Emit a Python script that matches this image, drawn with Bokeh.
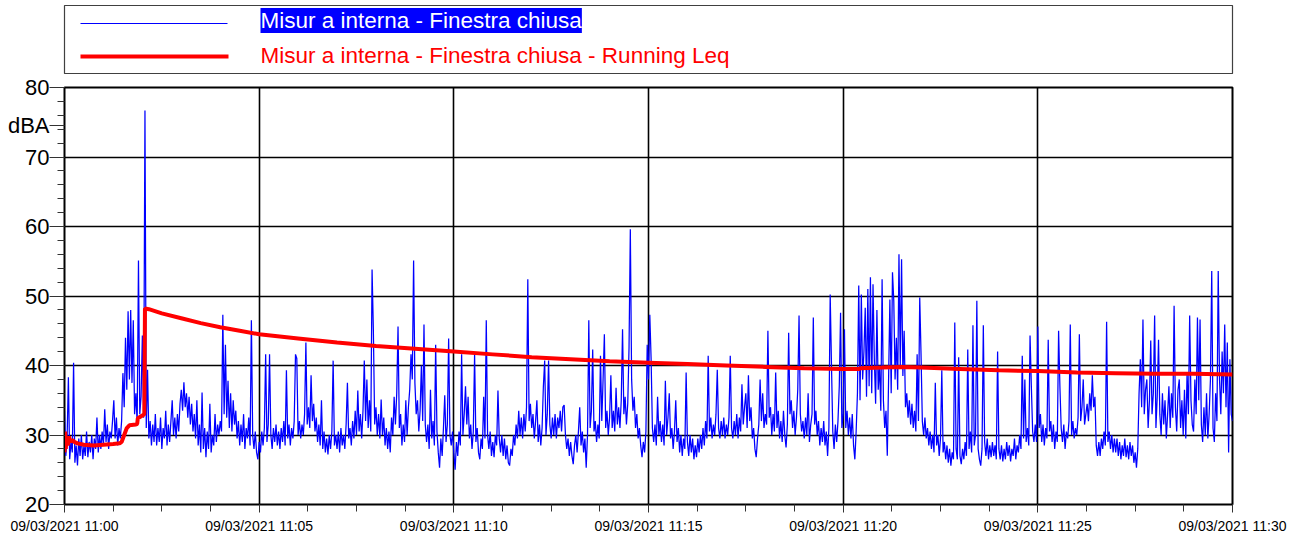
import numpy as np
from datetime import datetime
from bokeh.plotting import figure
from bokeh.models import Range1d, FixedTicker, DatetimeTickFormatter, Label
from bokeh.layouts import column
from bokeh.embed import file_html
from bokeh.resources import INLINE

FONT = "Liberation Sans"

# ---------------- data ----------------
start_time = datetime(2021, 3, 9, 11, 0, 0)
sample_step_s = 2

# LAeq samples (dBA), one value every 2 s; one row per minute
laeq_1100_1105 = [
    33.5, 27.0, 29.5, 38.3, 26.5, 29.0, 27.5, 40.4, 26.0, 28.5, 25.6, 29.5, 27.0, 30.0, 26.5, 28.5, 27.0, 30.5, 26.8, 29.0, 27.5, 30.0, 26.5, 29.5, 28.0, 32.5, 27.5, 30.0, 28.0, 30.5,
    28.5, 33.7, 29.0, 31.5, 28.0, 30.5, 29.5, 32.0, 35.0, 29.5, 32.5, 28.5, 31.0, 29.5, 32.0, 38.9, 34.0, 44.0, 36.5, 47.8, 38.0, 48.0, 37.5, 46.5, 33.0, 36.0, 31.5, 55.1, 33.0, 35.5,
    44.3, 32.5, 76.7, 31.0, 39.4, 29.5, 32.0, 28.5, 31.5, 29.0, 33.0, 28.5, 31.0, 29.0, 32.5, 28.0, 31.0, 29.5, 33.5, 28.5, 31.5, 29.0, 32.0, 35.0, 30.0, 32.5, 29.5, 33.0, 30.5, 34.5,
    36.5, 33.5, 37.6, 34.0, 36.0, 32.5, 35.5, 31.5, 34.5, 30.5, 33.0, 29.5, 35.0, 28.5, 31.5, 27.5, 36.1, 28.0, 31.0, 26.8, 30.5, 28.0, 34.5, 27.5, 30.0, 28.5, 33.0, 29.0, 31.5, 30.0,
    32.0, 30.5, 47.3, 33.0, 43.0, 32.5, 37.8, 31.0, 36.0, 30.5, 35.0, 31.5, 33.5, 29.5, 32.0, 28.5, 31.5, 29.0, 33.0, 28.0, 31.0, 29.5, 32.5, 28.5, 46.5, 30.0, 28.0, 30.5, 27.5, 26.5,
]
laeq_1105_1110 = [
    29.0, 27.5, 30.5, 28.5, 31.0, 41.6, 29.0, 31.5, 41.6, 30.0, 28.0, 31.0, 29.0, 31.5, 28.5, 30.5, 28.0, 31.0, 29.0, 32.0, 28.5, 39.3, 29.5, 31.5, 28.5, 31.0, 29.5, 32.0, 41.6, 41.0,
    30.0, 32.0, 29.5, 31.5, 30.0, 33.0, 43.3, 31.5, 34.0, 31.0, 38.6, 32.0, 34.5, 30.5, 32.5, 29.0, 31.5, 28.5, 35.0, 28.0, 30.5, 27.5, 29.5, 27.2, 30.0, 28.0, 30.5, 40.7, 28.5, 30.0,
    28.0, 30.5, 27.5, 31.0, 28.5, 30.0, 28.0, 31.5, 37.5, 29.5, 31.0, 28.5, 32.0, 29.5, 33.5, 30.0, 36.4, 30.5, 33.0, 29.5, 33.5, 40.7, 32.0, 38.0, 31.0, 35.0, 30.5, 53.8, 45.0, 31.5,
    34.0, 30.0, 33.0, 29.5, 35.1, 30.0, 32.5, 28.5, 31.0, 28.0, 30.5, 27.5, 32.5, 30.0, 35.5, 31.5, 36.0, 45.6, 31.0, 33.0, 28.5, 31.5, 29.0, 35.0, 30.0, 34.0, 36.5, 41.6, 38.0, 55.1,
    37.5, 33.0, 35.0, 30.5, 33.5, 40.0, 32.0, 45.9, 31.5, 29.0, 31.5, 28.0, 36.5, 29.5, 32.0, 28.5, 43.0, 30.5, 27.5, 25.3, 29.5, 27.0, 31.0, 35.7, 29.0, 31.5, 43.9, 30.0, 28.5, 30.5,
]
laeq_1110_1115 = [
    27.5, 25.0, 29.0, 27.0, 30.5, 28.5, 41.6, 30.0, 33.0, 37.0, 31.5, 35.5, 29.5, 31.5, 28.0, 30.5, 41.6, 29.0, 31.0, 27.5, 26.5, 29.5, 28.0, 35.5, 29.5, 46.5, 30.0, 28.0, 30.5, 27.0,
    29.0, 26.8, 30.0, 28.5, 36.4, 29.5, 27.5, 30.0, 27.0, 29.5, 26.5, 28.5, 26.0, 25.6, 28.0, 27.0, 30.0, 28.5, 31.5, 29.5, 33.5, 30.0, 32.5, 29.5, 33.0, 30.5, 34.0, 52.4, 32.0, 34.5,
    31.0, 33.0, 29.5, 32.0, 35.0, 29.0, 31.5, 28.5, 31.0, 37.0, 40.7, 30.0, 33.0, 40.7, 31.5, 29.5, 32.5, 30.0, 33.0, 29.5, 32.5, 31.0, 33.5, 30.5, 34.0, 34.3, 30.0, 28.0, 29.5, 27.0,
    29.0, 27.0, 25.8, 28.5, 30.0, 27.5, 30.5, 34.0, 28.5, 30.5, 27.5, 29.5, 25.3, 30.0, 46.5, 31.0, 33.5, 42.3, 30.5, 32.0, 29.0, 31.5, 29.5, 41.4, 32.0, 38.0, 44.5, 31.0, 33.5, 30.0,
    32.5, 38.6, 31.0, 33.5, 30.5, 36.8, 31.5, 34.0, 31.0, 35.0, 45.2, 33.0, 35.5, 31.5, 34.5, 42.6, 59.6, 38.0, 33.5, 35.5, 31.0, 33.0, 29.5, 31.0, 28.5, 26.8, 29.0, 27.5, 30.5, 43.0,
]
laeq_1115_1120 = [
    38.0, 47.3, 41.0, 31.0, 29.0, 31.5, 28.5, 35.5, 30.0, 32.0, 29.0, 31.5, 28.5, 37.8, 30.0, 32.5, 36.0, 29.5, 31.0, 28.0, 30.5, 35.0, 29.0, 31.0, 27.5, 30.0, 27.0, 29.5, 28.0, 39.0,
    29.0, 27.0, 30.0, 27.5, 29.5, 26.5, 28.5, 26.8, 29.5, 27.5, 30.0, 28.0, 31.0, 28.5, 32.0, 29.5, 41.4, 30.5, 32.5, 29.5, 31.5, 30.0, 33.0, 39.4, 31.0, 29.5, 32.0, 30.0, 32.5, 29.5,
    31.5, 30.0, 32.5, 41.4, 31.0, 29.5, 32.0, 30.0, 33.0, 29.5, 32.5, 30.5, 37.3, 31.5, 34.0, 36.0, 31.0, 38.6, 32.0, 34.0, 29.5, 31.0, 28.0, 26.8, 29.5, 31.5, 38.0, 32.0, 36.0, 31.0,
    33.0, 31.5, 45.0, 32.5, 34.0, 30.0, 33.0, 30.5, 39.0, 31.0, 33.5, 29.5, 32.0, 29.0, 33.5, 30.0, 28.2, 31.5, 44.7, 33.0, 35.0, 31.0, 33.5, 30.0, 32.5, 36.5, 47.2, 33.0, 30.5, 32.0,
    29.5, 32.5, 30.0, 36.0, 29.0, 31.5, 33.0, 46.9, 31.5, 33.5, 30.0, 32.0, 28.5, 31.0, 29.0, 32.0, 28.5, 30.5, 27.0, 31.0, 50.2, 40.0, 30.5, 28.0, 31.5, 29.0, 32.0, 37.0, 47.6, 31.0,
]
laeq_1120_1125 = [
    33.0, 45.2, 31.0, 33.5, 30.0, 32.5, 29.5, 33.0, 28.5, 26.5, 30.5, 36.0, 51.5, 35.0, 50.2, 38.0, 42.0, 48.3, 35.5, 51.0, 37.0, 52.7, 36.0, 51.7, 41.0, 34.5, 48.0, 36.5, 40.0, 33.5,
    52.4, 35.0, 31.0, 33.5, 27.0, 38.0, 49.5, 36.0, 53.4, 49.3, 38.0, 44.0, 36.5, 56.0, 40.0, 55.3, 38.5, 45.0, 34.0, 36.0, 32.5, 35.0, 31.5, 34.5, 31.0, 33.5, 30.5, 41.6, 32.0, 49.8,
    41.6, 32.0, 30.0, 32.5, 29.5, 31.0, 28.5, 30.5, 28.0, 30.0, 27.5, 37.5, 28.5, 30.0, 27.0, 29.5, 39.3, 27.5, 29.0, 26.5, 28.5, 26.0, 28.0, 25.6, 27.5, 26.5, 46.2, 28.0, 26.5, 41.2,
    27.0, 25.8, 28.0, 26.5, 29.0, 27.0, 42.3, 28.0, 30.5, 27.5, 45.8, 28.5, 30.0, 49.3, 28.0, 26.5, 25.6, 28.0, 45.8, 29.0, 27.0, 29.5, 26.5, 28.5, 26.8, 29.0, 27.0, 28.5, 26.5, 42.0,
    28.0, 26.5, 28.5, 26.2, 28.0, 26.5, 29.0, 27.0, 28.5, 26.2, 28.0, 27.0, 29.5, 26.5, 28.5, 27.5, 30.0, 28.0, 41.4, 29.5, 38.0, 29.0, 31.0, 28.5, 44.3, 37.0, 30.5, 29.0, 31.5, 29.0,
]
laeq_1125_1130 = [
    45.6, 31.0, 33.0, 29.0, 31.5, 28.5, 31.0, 29.5, 43.7, 30.5, 32.0, 29.0, 31.5, 28.0, 30.5, 29.0, 45.0, 37.0, 31.0, 29.0, 31.5, 28.0, 30.5, 29.5, 32.0, 45.9, 30.0, 32.0, 29.5, 31.0,
    30.0, 32.5, 44.5, 32.0, 34.0, 38.0, 31.5, 33.0, 34.5, 32.0, 36.0, 33.5, 38.6, 34.0, 35.5, 28.5, 27.0, 29.0, 27.0, 29.5, 28.0, 30.5, 28.5, 46.3, 29.0, 30.5, 28.0, 30.0, 27.5, 29.5,
    27.5, 29.5, 27.0, 29.0, 26.5, 28.5, 27.0, 29.5, 26.8, 28.5, 26.5, 29.0, 27.0, 28.5, 26.0, 27.5, 25.3, 28.0, 36.0, 40.9, 34.0, 46.6, 33.0, 36.5, 38.0, 31.0, 35.0, 43.6, 33.0, 36.0,
    47.2, 31.0, 35.5, 43.7, 33.0, 30.0, 36.0, 31.5, 35.0, 29.5, 33.0, 37.0, 31.0, 36.0, 32.5, 48.6, 34.0, 30.5, 36.5, 38.0, 31.0, 35.0, 30.0, 36.5, 29.5, 39.0, 33.0, 47.2, 35.0, 31.5,
    30.5, 38.0, 33.0, 46.9, 35.0, 46.6, 31.5, 29.0, 34.0, 30.0, 36.0, 29.5, 33.0, 38.0, 53.6, 31.0, 29.0, 36.0, 32.0, 53.6, 38.0, 33.0, 42.0, 36.0, 45.9, 34.0, 43.3, 27.5, 40.9, 33.0,
    32.0,
]

# Running Leq (dBA) at given seconds after 11:00:00
leq_time_s = [0, 1, 2, 3, 5, 7, 9, 12, 15, 20, 30, 45, 60, 75, 85, 88, 92, 96, 100, 110,
              112, 113, 120, 123, 124, 130, 150, 180, 210, 240, 270, 300, 360, 420, 480, 540,
              600, 660, 720, 780, 840, 900, 960, 1020, 1080, 1140, 1200, 1225, 1226, 1260,
              1290, 1320, 1380, 1440, 1500, 1560, 1620, 1680, 1740, 1800]
leq_db = [27.5, 30.5, 28.0, 29.5, 28.5, 29.8, 29.0, 29.3, 29.0, 28.8, 28.6, 28.5, 28.6, 28.7, 28.8, 29.0, 30.0, 31.0, 31.4, 31.5,
          31.6, 32.4, 32.8, 33.0, 48.2, 48.1, 47.5, 46.8, 46.1, 45.5, 45.0, 44.5, 43.9, 43.3, 42.8, 42.4,
          42.0, 41.6, 41.2, 40.9, 40.6, 40.4, 40.2, 40.0, 39.8, 39.6, 39.5, 39.5, 39.6, 39.7,
          39.8, 39.7, 39.5, 39.3, 39.2, 39.0, 38.9, 38.8, 38.8, 38.7]

series_labels = ["Misur a interna - Finestra chiusa",
                 "Misur a interna - Finestra chiusa - Running Leq"]
y_unit_label = "dBA"
y_unit_position = 74.5
y_major_ticks = [20, 30, 40, 50, 60, 70, 80]
y_tick_labels = ["20", "30", "40", "50", "60", "70", "80"]
y_minor_ticks = list(range(20, 81, 2))
x_major_minutes = [0, 5, 10, 15, 20, 25, 30]
x_minor_step_s = 75

# ---------------- derived ----------------
EPOCH = datetime(1970, 1, 1)
t0_ms = (start_time - EPOCH).total_seconds() * 1000.0
laeq = (laeq_1100_1105 + laeq_1105_1110 + laeq_1110_1115 +
        laeq_1115_1120 + laeq_1120_1125 + laeq_1125_1130)
laeq_x = t0_ms + np.arange(len(laeq)) * sample_step_s * 1000.0
leq_x = t0_ms + np.array(leq_time_s, dtype=float) * 1000.0
x_end = t0_ms + 30 * 60 * 1000.0
major_ms = [t0_ms + m * 60000.0 for m in x_major_minutes]
minor_ms = [t0_ms + s * 1000.0 for s in range(0, 1801, x_minor_step_s)]

BLUE = "#0000FF"
RED = "#FF0000"
W = 1290

# ---------------- legend panel ----------------
lg = figure(width=W, height=74, x_range=Range1d(0, 1168), y_range=Range1d(68, 0),
            x_axis_location=None, y_axis_location=None,
            output_backend="svg", toolbar_location=None,
            min_border_left=64, min_border_right=58, min_border_top=5, min_border_bottom=1)
lg.grid.visible = False
lg.outline_line_color = "#404040"
lg.outline_line_width = 1.2
lg.line([16, 163], [18, 18], line_color=BLUE, line_width=1.2)
lg.line([16, 164], [51, 51], line_color=RED, line_width=4)
lg.add_layout(Label(x=196, y=15, text=series_labels[0], text_font=FONT, text_font_size="22.5px",
                    text_color="white", text_baseline="middle",
                    background_fill_color=BLUE, background_fill_alpha=1.0))
lg.add_layout(Label(x=196, y=50, text=series_labels[1], text_font=FONT, text_font_size="22.5px",
                    text_color=RED, text_baseline="middle"))

# ---------------- main chart ----------------
p = figure(width=W, height=464, x_axis_type="datetime",
           x_range=Range1d(t0_ms, x_end), y_range=Range1d(20, 80),
           output_backend="svg", toolbar_location=None,
           min_border_left=64, min_border_right=58, min_border_top=13, min_border_bottom=34)

p.line(laeq_x, laeq, line_color=BLUE, line_width=1.25)
p.line(leq_x, leq_db, line_color=RED, line_width=4)

p.outline_line_color = "black"
p.outline_line_width = 2

xt = FixedTicker(ticks=major_ms, minor_ticks=minor_ms)
p.xaxis.ticker = xt
p.xgrid.ticker = xt
# y axis: decade ticks plus the unit label "dBA" placed as a tick label
p.yaxis.ticker = FixedTicker(ticks=y_major_ticks + [y_unit_position], minor_ticks=y_minor_ticks)
overrides = {float(v): s for v, s in zip(y_major_ticks, y_tick_labels)}
overrides[float(y_unit_position)] = y_unit_label
p.yaxis.major_label_overrides = overrides
p.ygrid.ticker = FixedTicker(ticks=y_major_ticks)
for g in (p.xgrid, p.ygrid):
    g.grid_line_color = "black"
    g.grid_line_width = 1.6

fmt = "%d/%m/%Y %H:%M"
p.xaxis.formatter = DatetimeTickFormatter(
    microseconds=fmt, milliseconds=fmt, seconds=fmt, minsec=fmt, minutes=fmt,
    hourmin=fmt, hours=fmt, days=fmt, months=fmt, years=fmt, strip_leading_zeros=False)

for ax in (p.xaxis, p.yaxis):
    ax.axis_line_color = "black"
    ax.major_tick_line_color = "#333333"
    ax.minor_tick_line_color = "#333333"
    ax.major_tick_in = 0
    ax.minor_tick_in = 0
    ax.major_label_text_font = FONT
    ax.major_label_text_color = "black"

p.xaxis.major_tick_out = 8
p.xaxis.minor_tick_out = 7
p.xaxis.major_label_text_font_size = "14px"
p.xaxis.major_label_standoff = 5

p.yaxis.major_tick_out = 15
p.yaxis.minor_tick_out = 7
p.yaxis.major_label_text_font_size = "22px"
p.yaxis.major_label_standoff = 0

layout = column(lg, p, spacing=0)
open("out.html", "w").write(file_html(layout, INLINE))
